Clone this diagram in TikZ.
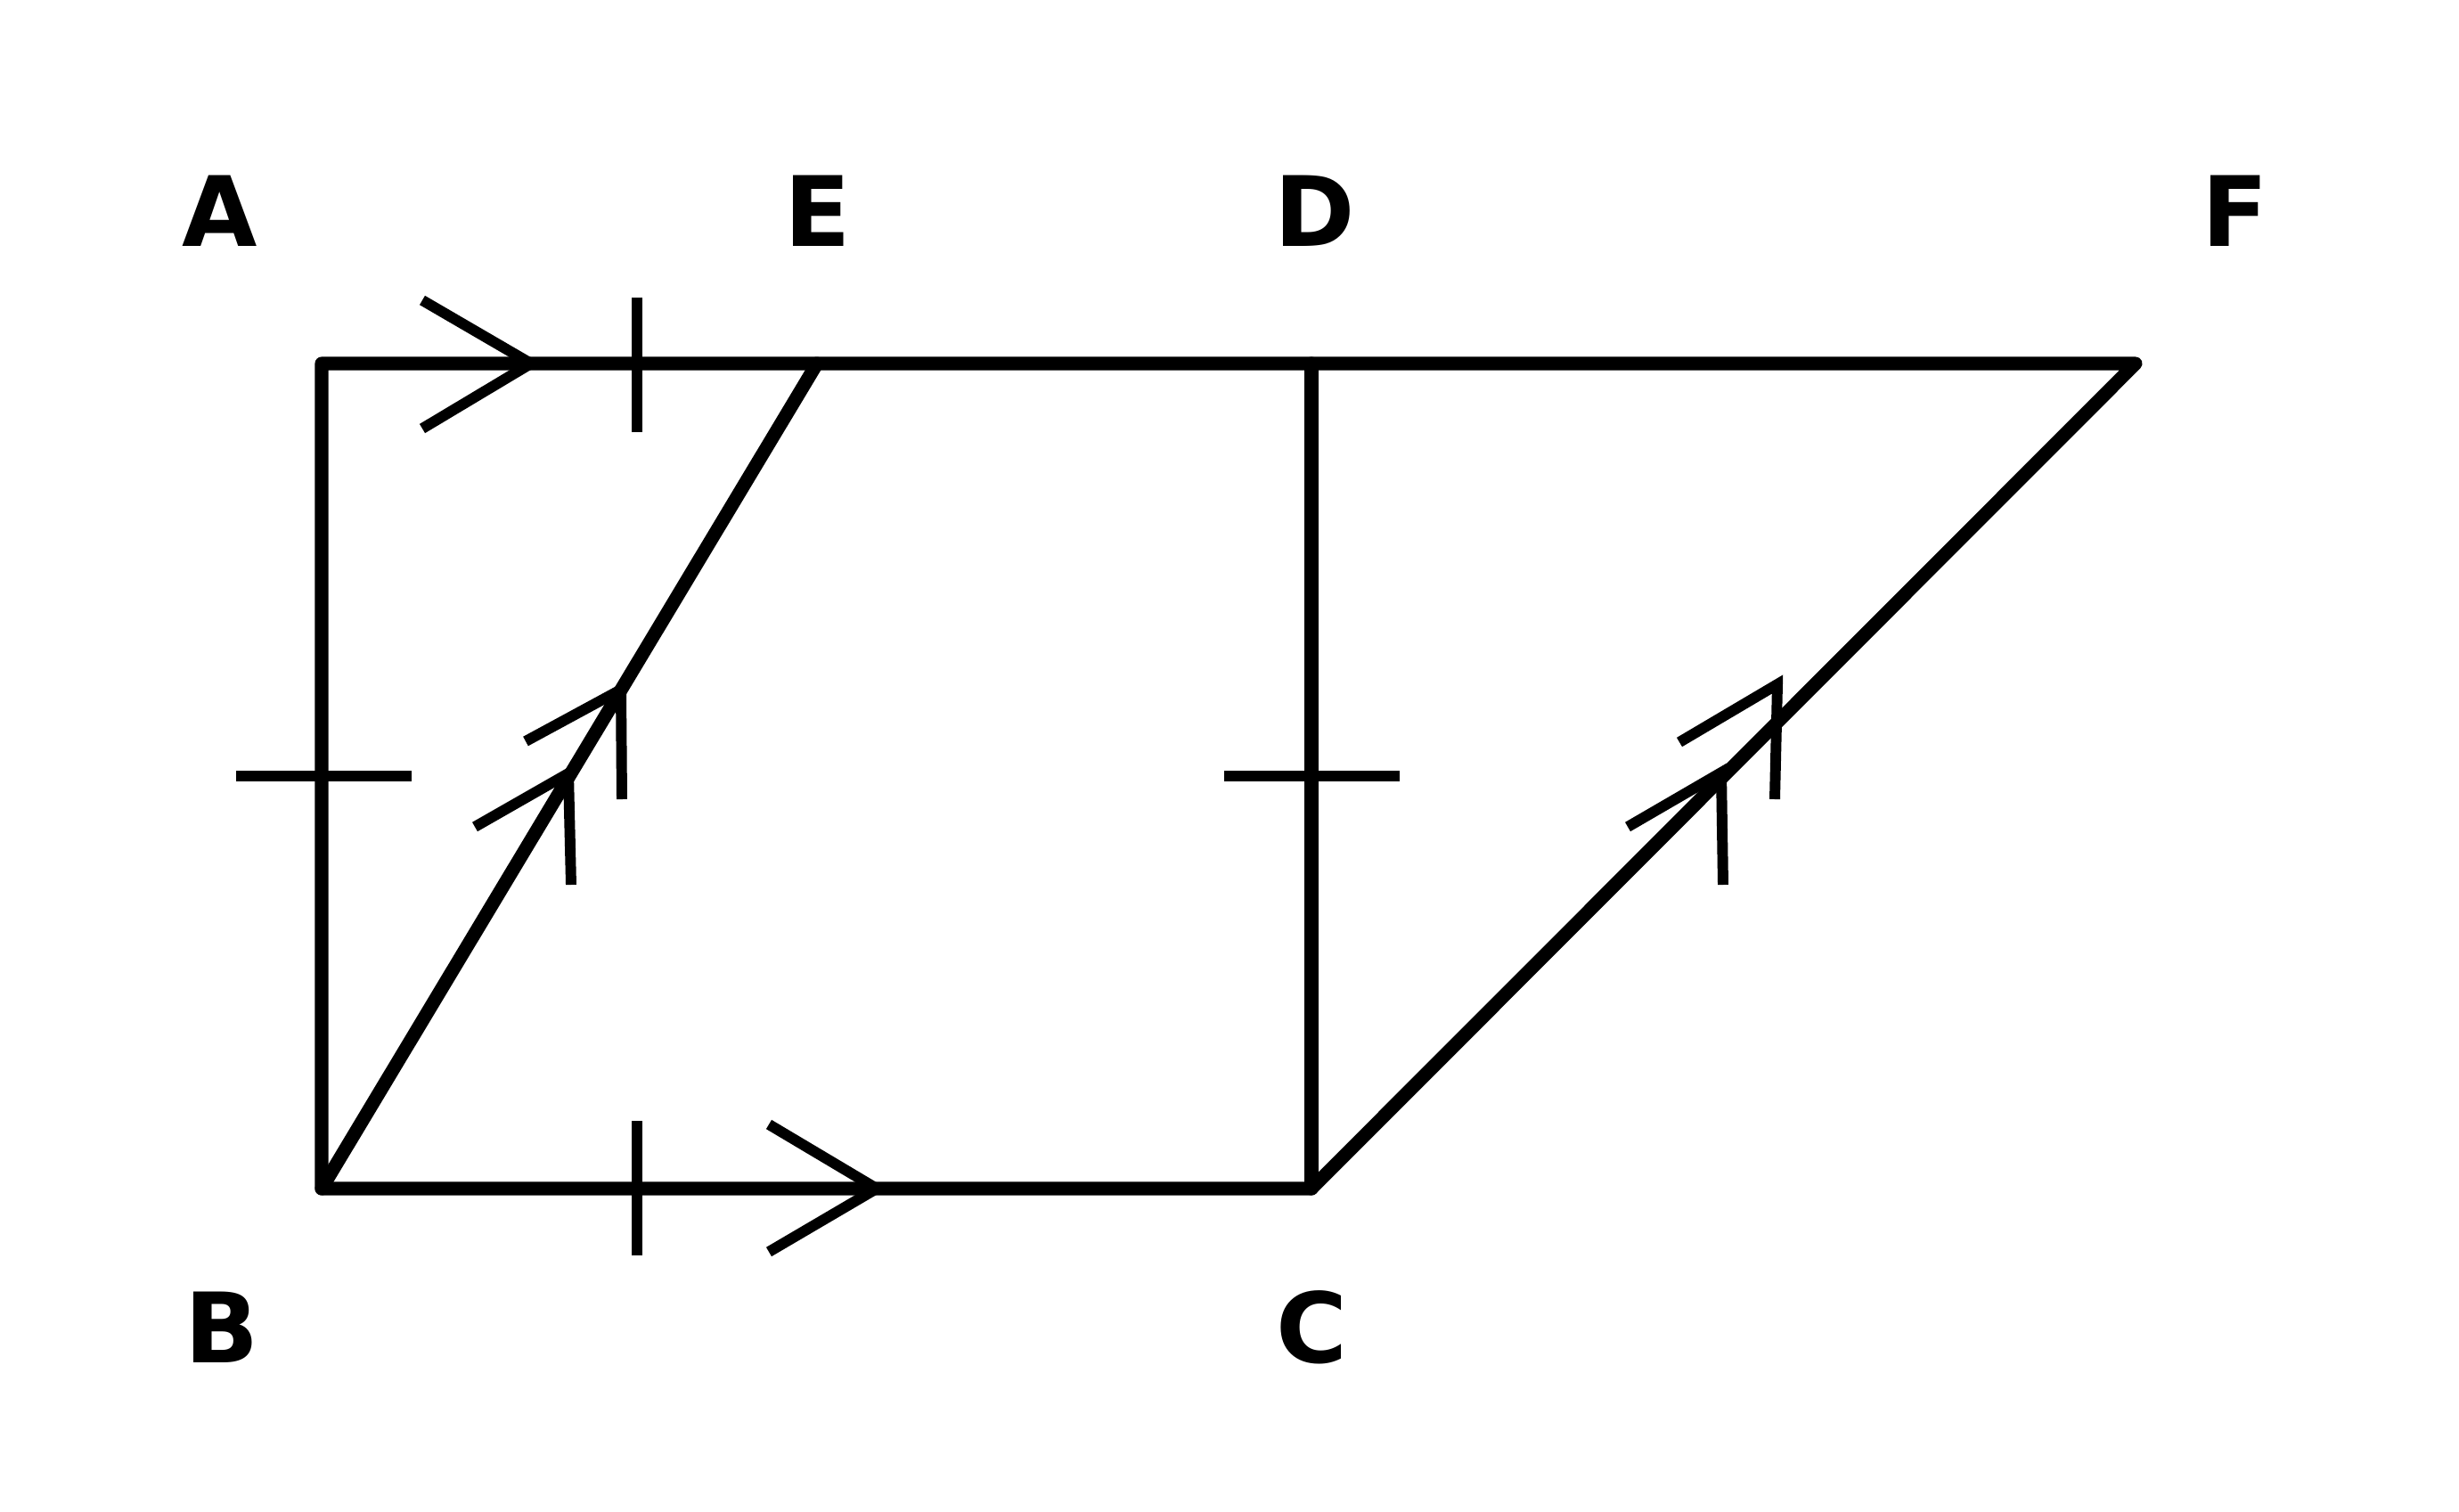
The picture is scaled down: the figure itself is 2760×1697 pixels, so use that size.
\documentclass[tikz,border=0pt]{standalone}
\usepackage{fontspec}
\setmainfont{DejaVu Sans}
\usepackage{tikz}
\begin{document}
\begin{tikzpicture}[x=0.01cm, y=-0.01cm,
  edge/.style={line width=4.3pt, line cap=round, line join=round},
  markline/.style={line width=3.4pt},
  lbl/.style={font=\fontsize{31}{36}\selectfont\bfseries, anchor=base, inner sep=0pt}]
\useasboundingbox (0,0) rectangle (2760,1697);
\coordinate (A) at (361,408);
\coordinate (B) at (361,1334);
\coordinate (C) at (1472,1334);
\coordinate (D) at (1472,408);
\coordinate (E) at (917,408);
\coordinate (F) at (2397,408);
\node[lbl] (lA) at (247,276) {A};
\node[lbl] (lE) at (918,276) {E};
\node[lbl] (lD) at (1476,276) {D};
\node[lbl] (lF) at (2509,276) {F};
\node[lbl] (lB) at (249,1529) {B};
\node[lbl] (lC) at (1472,1529) {C};
\draw[edge] (B)--(A)--(F)--(C)--cycle;
\draw[edge] (D)--(C);
\draw[edge] (B)--(E);
\draw[markline] (715,334)--(715,485);
\draw[markline] (715,1258)--(715,1409);
\draw[markline] (265,871)--(462,871);
\draw[markline] (1374,871)--(1571,871);
\draw[markline] (474,337)--(596,408)--(474,481);
\draw[markline] (863,1262)--(984,1334)--(863,1405);
\draw[markline] (590,832)--(697,774)--(698,897);
\draw[markline] (533,928)--(638,868)--(641,993);
\draw[markline] (1885,833)--(1995,768)--(1992,897);
\draw[markline] (1827,928)--(1932,867)--(1934,993);
\end{tikzpicture}
\end{document}
